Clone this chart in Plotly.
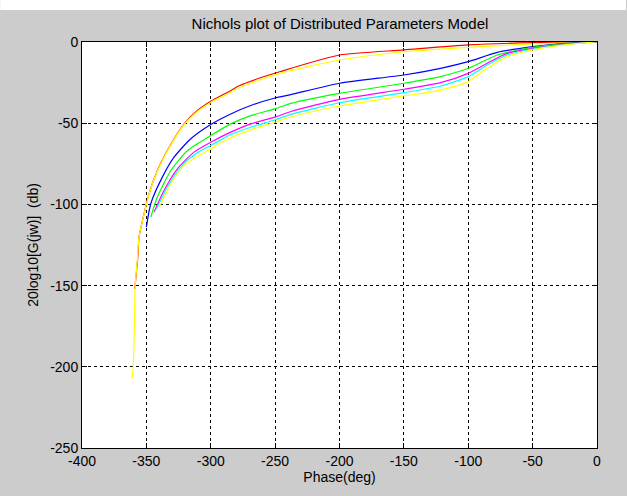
import plotly.graph_objects as go

# Nichols curves: phase (deg) and gain (dB) for each parameter set
red_phase = [-359, -356.6, -355.7, -351.8, -347.9, -341.5, -333.7, -320.7, -310.4, -300,
             -287, -277.5, -262, -246.5, -200, -150, -100, -50, -12, 0]
red_mag = [-152, -132, -120, -105.7, -93.4, -79.1, -66.8, -50.4, -42.2, -36.5,
           -31, -26.8, -22.2, -18.3, -8, -4.9, -1.8, -0.4, 0, 0]

yellow_hi_phase = [-361, -360.2, -359.3, -358.7, -357, -355.7, -351.8, -347.9, -341.5, -333.7,
                   -320.7, -310.4, -300, -287, -277.5, -262, -246.5, -200, -150, -100, -50, -2]
yellow_hi_mag = [-207, -200, -175, -150, -134, -120, -106, -93.6, -79.5, -67.2,
                 -50.8, -42.8, -37.2, -32, -28, -23.4, -19.3, -11.1, -6, -3.3, -1.2, 0]

blue_phase = [-350, -346.6, -337.6, -328.5, -315.5, -300, -284.5, -268.9, -250.1, -237.8,
              -200, -150, -121.5, -100, -77.5, -50, -25, -2]
blue_mag = [-114, -99.6, -83.2, -70.9, -59.6, -50.8, -44.3, -39.1, -34.5, -32.4,
            -25.4, -20.3, -16.2, -12.1, -6.4, -2.9, -0.8, 0]

green_phase = [-346.6, -341.5, -331, -318, -300, -284.5, -268.9, -250.3, -237.8, -200,
               -150, -121.5, -100, -77.5, -50, -25, -2]
green_mag = [-107.8, -95.5, -79.1, -66.8, -57.6, -50.4, -45.3, -41.2, -37.8, -31.6,
             -25.4, -21.3, -16.2, -8, -3.3, -1.2, 0]

magenta_phase = [-344, -336.3, -325.9, -313, -300, -284.5, -268.9, -250.3, -237.8, -200,
                 -150, -121.5, -100, -85.3, -69.8, -50, -25, -2]
magenta_mag = [-104.7, -91.4, -78.1, -67.8, -61.7, -55.5, -50.4, -46.3, -42.8, -35.3,
               -29.1, -25, -19.3, -13.1, -7, -3.9, -1.4, 0]

cyan_phase = [-342, -333.7, -323.3, -312, -300, -284.5, -268.9, -250.3, -237.8, -200,
              -150, -121.5, -100, -85.3, -69.8, -50, -25, -2]
cyan_mag = [-102.7, -89.3, -77, -69, -63.7, -57, -52.5, -48, -44.6, -37.4,
            -31.2, -27.1, -21.3, -14.2, -8, -4.3, -1.6, 0]

yellow_lo_phase = [-340, -331, -320.7, -300, -284.5, -268.9, -250.3, -237.8, -200,
                   -150, -121.5, -100, -85.3, -69.8, -50, -25, -2]
yellow_lo_mag = [-101.6, -87.3, -76, -65.8, -59, -54.1, -49.4, -46.2, -39.4,
                 -33.2, -29.6, -24.4, -16.2, -9, -4.9, -1.8, 0]

series = [
    (red_phase, red_mag, "#ff0000"),
    (yellow_hi_phase, yellow_hi_mag, "#ffff00"),
    (blue_phase, blue_mag, "#0000ff"),
    (green_phase, green_mag, "#00ff00"),
    (magenta_phase, magenta_mag, "#ff00ff"),
    (cyan_phase, cyan_mag, "#00ffff"),
    (yellow_lo_phase, yellow_lo_mag, "#ffff00"),
]

x_ticks = [-400, -350, -300, -250, -200, -150, -100, -50, 0]
x_labels = ["-400", "-350", "-300", "-250", "-200", "-150", "-100", "-50", "0"]
y_ticks = [-250, -200, -150, -100, -50, 0]
y_labels = ["-250", "-200", "-150", "-100", "-50", "0"]

fig = go.Figure()
for ph, mg, col in series:
    fig.add_trace(go.Scatter(
        x=ph, y=mg, mode="lines",
        line=dict(color=col, width=1.2, shape="spline", smoothing=0.6),
        showlegend=False, hoverinfo="skip",
    ))

FONT = "Liberation Sans, Arial, sans-serif"

axis_common = dict(
    showline=True, linecolor="black", linewidth=1, mirror="ticks",
    ticks="inside", ticklen=5, tickcolor="black",
    showgrid=True, gridcolor="black", griddash="3px,3px", gridwidth=1,
    zeroline=False,
    tickfont=dict(family=FONT, size=14, color="black"),
)

fig.update_layout(
    width=627, height=496,
    margin=dict(l=82, r=30, t=42, b=48),
    paper_bgcolor="#cccccc",
    plot_bgcolor="white",
    font=dict(family=FONT, size=14, color="black"),
    title=dict(text="Nichols plot of Distributed Parameters Model",
               x=(82 + 516 / 2) / 627, xanchor="center",
               y=1 - 24 / 496, yanchor="middle",
               font=dict(family=FONT, size=15, color="black")),
    xaxis=dict(range=[-400, 0], tickvals=x_ticks, ticktext=x_labels,
               title=dict(text="Phase(deg)", standoff=3,
                          font=dict(family=FONT, size=14, color="black")),
               **axis_common),
    yaxis=dict(range=[-250, 0], tickvals=y_ticks, ticktext=y_labels,
               title=dict(text="20log10[G(jw)]  (db)", standoff=8,
                          font=dict(family=FONT, size=14, color="black")),
               **axis_common),
    shapes=[dict(type="rect", xref="paper", yref="paper",
                 x0=-82 / 516, x1=545 / 516, y0=1 + 32 / 406, y1=1 + 42 / 406,
                 fillcolor="white", line=dict(width=0), layer="below")],
)

fig.write_html("out.html")
